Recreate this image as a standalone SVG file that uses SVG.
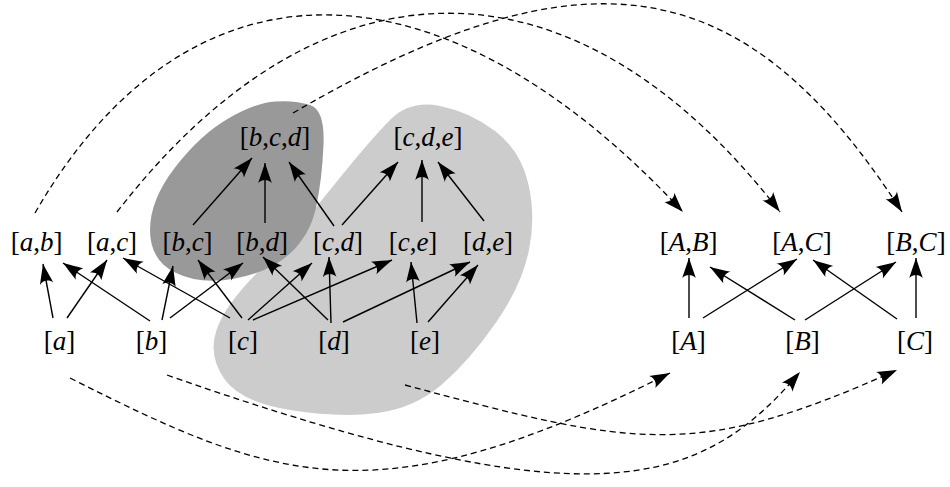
<svg xmlns="http://www.w3.org/2000/svg" width="950" height="487" viewBox="0 0 950 487">
<style>
text { font-family: "Liberation Serif", "Times New Roman", serif; font-size: 27px; text-anchor: middle; fill: #000; }
.i { font-style: italic; }
.e { fill: none; stroke: #000; stroke-width: 1.4; marker-end: url(#ah); }
.d { fill: none; stroke: #000; stroke-width: 1.3; stroke-dasharray: 6 4; marker-end: url(#ah); }
</style>
<defs>
<marker id="ah" markerUnits="userSpaceOnUse" viewBox="-22 -9 24 18" markerWidth="24" markerHeight="18" refX="0" refY="0" orient="auto">
<path d="M0,0 C-6,-2 -14,-4.8 -20,-6.8 C-16,-3 -16,3 -20,6.8 C-14,4.8 -6,2 0,0 Z" fill="#000" stroke="none"/>
</marker>
</defs>
<rect width="950" height="487" fill="#fff"/>
<g id="regions">
<path id="region-cde" fill="#cccccc" d="M440,106 Q470,112 495,131 Q520,150 528,182.5 Q536,215 529,250 Q522,285 496,322.5 Q470,360 442.5,384 Q415,408 377.5,413 Q340,418 290,410 Q240,402 224,378.5 Q208,355 216.5,330 Q225,305 257.5,272.5 Q290,240 330,190 Q370,140 390,120 Q410,100 440,106 Z"/>
<path id="region-bcd" fill="#999999" d="M310,105 Q325,110 323.5,145 Q322,180 316,207.5 Q310,235 290,253.5 Q270,272 235,278.5 Q200,285 175,272.5 Q150,260 150,230 Q150,200 175,167.5 Q200,135 227.5,119 Q255,103 275,101.5 Q295,100 310,105 Z"/>
</g>
<g id="connectors">
<path class="e" d="M193,225 L252,158"/>
<path class="e" d="M265,223 L265,163"/>
<path class="e" d="M334,226 L289,162"/>
<path class="e" d="M342,225 L398,162"/>
<path class="e" d="M422,222 L422,160"/>
<path class="e" d="M484,221 L438,162"/>
<path class="e" d="M53,318 L43,264"/>
<path class="e" d="M67,318 L107,260"/>
<path class="e" d="M150,321 L63,263"/>
<path class="e" d="M162,320 L173,266"/>
<path class="e" d="M170,318 L243,263"/>
<path class="e" d="M230,318 L123,258"/>
<path class="e" d="M242,318 L198,260"/>
<path class="e" d="M248,320 L312,263"/>
<path class="e" d="M253,320 L392,260"/>
<path class="e" d="M328,320 L263,257"/>
<path class="e" d="M331,323 L329,257"/>
<path class="e" d="M343,322 L470,262"/>
<path class="e" d="M417,323 L411,262"/>
<path class="e" d="M428,322 L478,265"/>
<path class="e" d="M689,318 L689,258"/>
<path class="e" d="M703,318 L797,259"/>
<path class="e" d="M795,320 L710,267"/>
<path class="e" d="M805,320 L896,262"/>
<path class="e" d="M897,319 L813,260"/>
<path class="e" d="M916,318 L916,258"/>
<path class="d" d="M35,213 C187,-51 438,-51 683,212"/>
<path class="d" d="M117,212 C322,-53 575,-53 780,212"/>
<path class="d" d="M293,113 C585,-57 745,-32 902,212"/>
<path class="d" d="M70,378 C275,481.5 376,521.5 670,373"/>
<path class="d" d="M167,375 C590,523.5 700,490 800,372"/>
<path class="d" d="M405,385 C637,447.4 697,460 897,370"/>
</g>
<g id="node-bcd"><text x="275" y="146">[<tspan class="i">b</tspan>,<tspan class="i">c</tspan>,<tspan class="i">d</tspan>]</text></g>
<g id="node-cde"><text x="428" y="146">[<tspan class="i">c</tspan>,<tspan class="i">d</tspan>,<tspan class="i">e</tspan>]</text></g>
<g id="node-ab"><text x="36.5" y="251">[<tspan class="i">a</tspan>,<tspan class="i">b</tspan>]</text></g>
<g id="node-ac"><text x="112" y="251">[<tspan class="i">a</tspan>,<tspan class="i">c</tspan>]</text></g>
<g id="node-bc"><text x="187.5" y="251">[<tspan class="i">b</tspan>,<tspan class="i">c</tspan>]</text></g>
<g id="node-bd"><text x="262" y="251">[<tspan class="i">b</tspan>,<tspan class="i">d</tspan>]</text></g>
<g id="node-cd"><text x="338" y="251">[<tspan class="i">c</tspan>,<tspan class="i">d</tspan>]</text></g>
<g id="node-ce"><text x="413" y="251">[<tspan class="i">c</tspan>,<tspan class="i">e</tspan>]</text></g>
<g id="node-de"><text x="488" y="251">[<tspan class="i">d</tspan>,<tspan class="i">e</tspan>]</text></g>
<g id="node-AB"><text x="688.5" y="251">[<tspan class="i">A</tspan>,<tspan class="i">B</tspan>]</text></g>
<g id="node-AC"><text x="802" y="251">[<tspan class="i">A</tspan>,<tspan class="i">C</tspan>]</text></g>
<g id="node-BC"><text x="916" y="251">[<tspan class="i">B</tspan>,<tspan class="i">C</tspan>]</text></g>
<g id="node-a"><text x="59.5" y="350">[<tspan class="i">a</tspan>]</text></g>
<g id="node-b"><text x="151.5" y="350">[<tspan class="i">b</tspan>]</text></g>
<g id="node-c"><text x="243" y="350">[<tspan class="i">c</tspan>]</text></g>
<g id="node-d"><text x="334" y="350">[<tspan class="i">d</tspan>]</text></g>
<g id="node-e"><text x="425" y="350">[<tspan class="i">e</tspan>]</text></g>
<g id="node-A"><text x="688.5" y="350">[<tspan class="i">A</tspan>]</text></g>
<g id="node-B"><text x="802.5" y="350">[<tspan class="i">B</tspan>]</text></g>
<g id="node-C"><text x="915" y="350">[<tspan class="i">C</tspan>]</text></g>
</svg>
